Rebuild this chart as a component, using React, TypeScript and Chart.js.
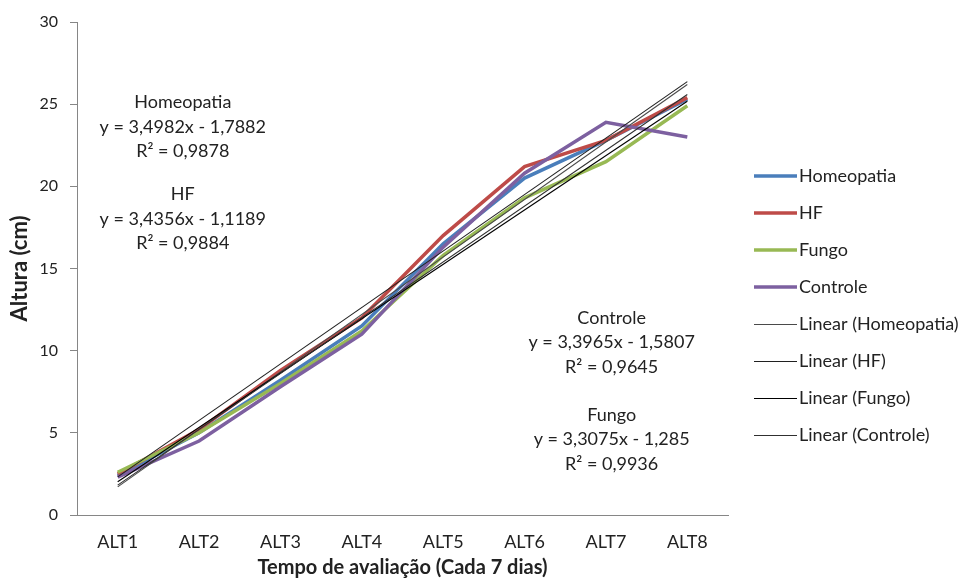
import React, { useEffect, useRef } from "react";
import { Chart, registerables } from "chart.js";
Chart.register(...registerables);

const categories = ["ALT1", "ALT2", "ALT3", "ALT4", "ALT5", "ALT6", "ALT7", "ALT8"];
const homeopatia = [2.4, 5.0, 8.2, 11.5, 16.5, 20.5, 22.8, 25.3];
const hf = [2.5, 5.2, 8.8, 12.0, 17.0, 21.2, 22.8, 25.4];
const fungo = [2.6, 5.0, 8.0, 11.2, 15.8, 19.3, 21.5, 24.9];
const controle = [2.3, 4.5, 7.8, 11.0, 16.3, 20.8, 23.9, 23.0];
// trendline values at ALT1 and ALT8 (straight lines)
const trendHomeopatia = [1.71, 26.2];
const trendHF = [2.32, 26.37];
const trendFungo = [2.02, 25.18];
const trendControle = [1.82, 25.59];
const seriesNames = ["Homeopatia", "HF", "Fungo", "Controle"];
const trendNames = ["Linear (Homeopatia)", "Linear (HF)", "Linear (Fungo)", "Linear (Controle)"];
const eqNames = ["Homeopatia", "HF", "Controle", "Fungo"];
const eqFormulas = ["y = 3,4982x - 1,7882", "y = 3,4356x - 1,1189", "y = 3,3965x - 1,5807", "y = 3,3075x - 1,285"];
const eqR2 = ["R² = 0,9878", "R² = 0,9884", "R² = 0,9645", "R² = 0,9936"];

const FONT = "Lato, 'Open Sans', sans-serif";
const TEXT = "#222222";
const seriesColors = ["#4A7EBB", "#BE4B48", "#98B954", "#7D60A0"];
const trendColors = ["#4a4a4a", "#202020", "#000000", "#303030"];

function span(ends: number[]) {
  const arr: (number | null)[] = categories.map(() => null);
  arr[0] = ends[0];
  arr[categories.length - 1] = ends[1];
  return arr;
}

const annotationPlugin = {
  id: "eqs",
  afterDraw(chart: any) {
    const ctx = chart.ctx;
    const xs = chart.scales.x;
    const ys = chart.scales.y;
    // anchor positions (category index, value) for each equation block
    const anchors = [
      [0.8, 25.1],
      [0.8, 19.5],
      [6.07, 12.0],
      [6.07, 6.1],
    ];
    ctx.save();
    ctx.font = `18px ${FONT}`;
    ctx.fillStyle = TEXT;
    ctx.textAlign = "center";
    ctx.textBaseline = "middle";
    eqNames.forEach((n, i) => {
      const px = xs.getPixelForValue(anchors[i][0]);
      const py = ys.getPixelForValue(anchors[i][1]);
      ctx.fillText(n, px, py);
      ctx.fillText(eqFormulas[i], px, py + 24.5);
      ctx.fillText(eqR2[i], px, py + 49);
    });
    ctx.restore();
  },
};

const legendPlugin = {
  id: "customLegend",
  afterDraw(chart: any) {
    const ctx = chart.ctx;
    const x0 = chart.chartArea.right + 26;
    const y0 = 176;
    const step = 37;
    ctx.save();
    ctx.font = `18px ${FONT}`;
    ctx.fillStyle = TEXT;
    ctx.textBaseline = "middle";
    ctx.textAlign = "left";
    const items = [
      ...seriesNames.map((n, i) => ({ n, c: seriesColors[i], w: 3.5, o: 0 })),
      ...trendNames.map((n, i) => ({ n, c: trendColors[i], w: 1, o: 0.5 })),
    ];
    items.forEach((it, i) => {
      const y = y0 + i * step;
      ctx.strokeStyle = it.c;
      ctx.lineWidth = it.w;
      ctx.beginPath();
      ctx.moveTo(x0, y + it.o);
      ctx.lineTo(x0 + 43, y + it.o);
      ctx.stroke();
      ctx.fillText(it.n, x0 + 45, y);
    });
    ctx.restore();
  },
};

export default function App() {
  const ref = useRef<HTMLCanvasElement>(null);
  useEffect(() => {
    if (!ref.current) return;
    const seriesData = [homeopatia, hf, fungo, controle];
    const trendData = [trendHomeopatia, trendHF, trendFungo, trendControle];
    const chart = new Chart(ref.current, {
      type: "line",
      data: {
        labels: categories,
        datasets: [
          ...seriesNames.map((n, i) => ({
            label: n,
            data: seriesData[i],
            borderColor: seriesColors[i],
            backgroundColor: seriesColors[i],
            borderWidth: 3.5,
            pointRadius: 0,
            tension: 0,
            order: 10 - i,
          })),
          ...trendNames.map((n, i) => ({
            label: n,
            data: span(trendData[i]),
            borderColor: trendColors[i],
            borderWidth: 1.1,
            pointRadius: 0,
            spanGaps: true,
            order: 4 - i,
          })),
        ],
      },
      options: {
        responsive: false,
        animation: false,
        layout: { padding: { left: 0, right: 241, top: 22, bottom: 0 } },
        plugins: { legend: { display: false }, tooltip: { enabled: false } },
        scales: {
          x: {
            type: "category",
            offset: true,
            grid: { display: false },
            border: { display: true, color: "#868686", width: 1 },
            ticks: { color: TEXT, font: { family: FONT, size: 18 }, padding: 8 },
            title: {
              display: true,
              text: "Tempo de avaliação (Cada 7 dias)",
              color: TEXT,
              font: { family: FONT, size: 20, weight: "bold" },
              padding: { top: 0, bottom: 2 },
            },
            afterFit: (s: any) => { s.height = 67; },
          },
          y: {
            min: 0,
            max: 30,
            ticks: { stepSize: 5, color: TEXT, font: { family: FONT, size: 16 }, padding: 12 },
            grid: { display: true, drawOnChartArea: false, drawTicks: true, tickLength: 7, color: "#868686" },
            border: { display: true, color: "#868686", width: 1 },
            title: {
              display: true,
              text: "Altura (cm)",
              color: TEXT,
              font: { family: FONT, size: 22, weight: "bold" },
              padding: { top: 7, bottom: 7 },
            },
            afterFit: (s: any) => { s.width = 77; },
          },
        },
      },
      plugins: [annotationPlugin, legendPlugin],
    } as any);
    return () => chart.destroy();
  }, []);
  return (
    <div style={{ position: "absolute", left: 0, top: 0, width: 969, height: 582, background: "#fff" }}>
      <canvas ref={ref} width={969} height={582} style={{ width: 969, height: 582 }} />
    </div>
  );
}
